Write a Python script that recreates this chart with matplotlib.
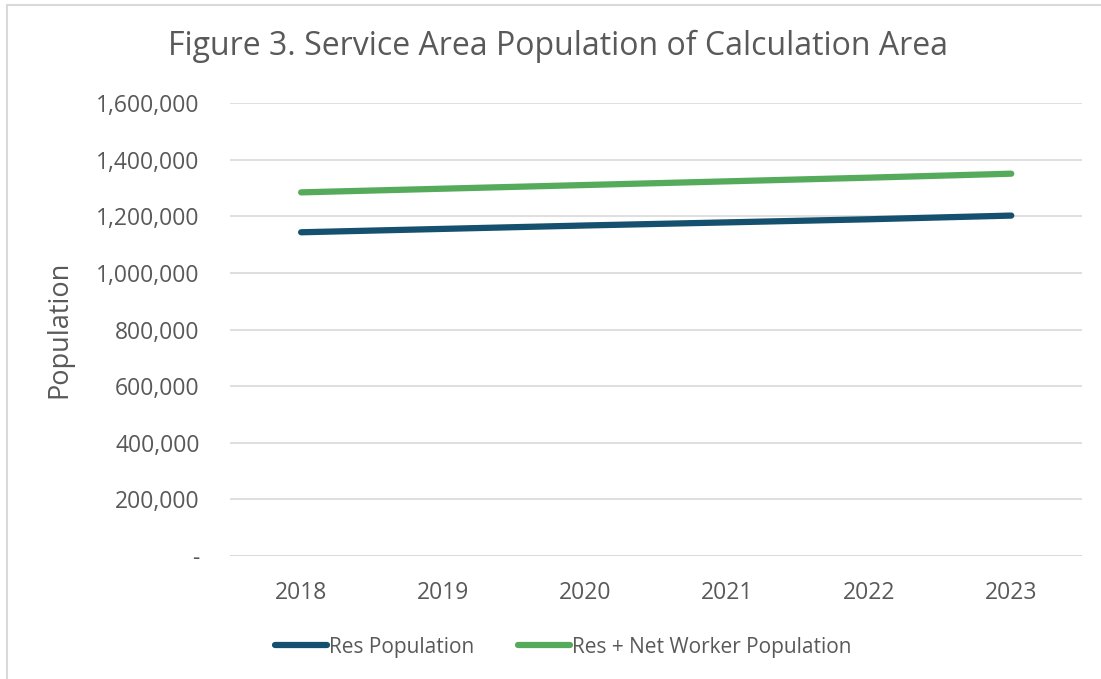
import numpy as np
import matplotlib.pyplot as plt
from matplotlib.patches import Rectangle

years = ['2018', '2019', '2020', '2021', '2022', '2023']
res_pop = [1144000, 1156000, 1168000, 1179000, 1190000, 1203000]
res_net_worker = [1285000, 1298000, 1311000, 1324000, 1337000, 1351000]

plt.rcParams['font.family'] = ['Open Sans', 'DejaVu Sans']
TXT = '#595959'

fig = plt.figure(figsize=(11.01, 6.79), dpi=100)
ax = fig.add_axes([0.209, 0.181, 0.774, 0.667])

x = np.arange(len(years))
ax.plot(x, res_pop, color='#15506e', lw=4.5, solid_capstyle='round', label='Res Population')
ax.plot(x, res_net_worker, color='#55ab5b', lw=4.5, solid_capstyle='round', label='Res + Net Worker Population')

ax.set_xlim(-0.5, 5.5)
ax.set_ylim(0, 1600000)
ax.set_xticks(x)
ax.set_xticklabels(years)
yt = np.arange(0, 1600001, 200000)
ax.set_yticks(yt)
ax.set_yticklabels(['-' if v == 0 else f'{v:,.0f}' for v in yt])
ax.tick_params(axis='both', length=0, labelsize=16.5, colors=TXT)
ax.tick_params(axis='x', pad=18)
ax.tick_params(axis='y', pad=22)
ax.grid(axis='y', color='#d9d9d9', lw=1.2)
ax.set_axisbelow(True)
for s in ax.spines.values():
    s.set_visible(False)
ax.axhline(0, color='#d9d9d9', lw=1.2, zorder=0)

ax.set_ylabel('Population', fontsize=19.5, color=TXT, labelpad=16)
fig.text(0.507, 0.931, 'Figure 3. Service Area Population of Calculation Area',
         ha='center', va='center', fontsize=23, color=TXT)

leg = ax.legend(loc='center', bbox_to_anchor=(0.391, -0.201), ncol=2, frameon=False,
                fontsize=15, handlelength=2.5, handletextpad=0.1, columnspacing=2.1)
for t in leg.get_texts():
    t.set_color(TXT)

fig.patches.append(Rectangle((0.006, -0.01), 1.0, 1.003, transform=fig.transFigure,
                             fill=False, edgecolor='#d9d9d9', lw=1.5))

fig.savefig('out.png', dpi=100)
